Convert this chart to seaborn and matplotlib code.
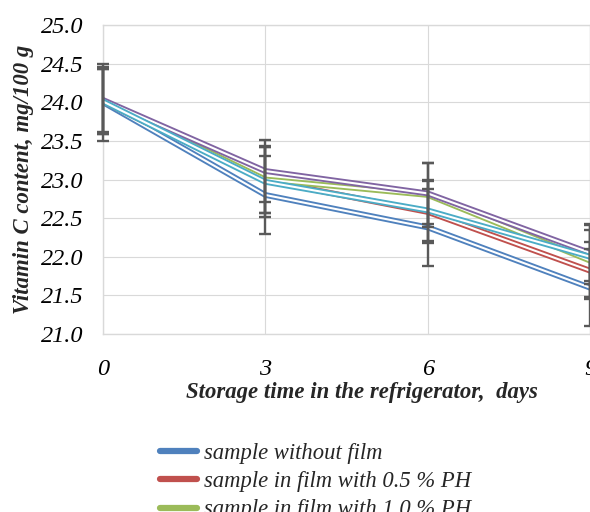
import matplotlib
matplotlib.use("Agg")
import matplotlib.pyplot as plt
import matplotlib.patheffects as pe
from matplotlib.lines import Line2D
import numpy as np
import pandas as pd
import seaborn as sns

# ---- data ----
days = [0, 3, 6, 9]
series_names = [
    "sample without film",
    "sample in film with 0.5 % PH",
    "sample in film with 1.0 % PH",
    "sample in film with 1.5 % PH",
    "sample in film with 2.0 % PH",
]
no_film = [24.00, 22.80, 22.38, 21.60]
ph_05 = [24.01, 22.99, 22.58, 21.82]
ph_10 = [24.02, 23.00, 22.80, 21.95]
ph_15 = [24.03, 23.11, 22.82, 22.05]
ph_20 = [24.01, 22.97, 22.60, 22.00]

err_no_film = [0.50, 0.50, 0.50, 0.50]
err_ph_05 = [0.42, 0.43, 0.40, 0.37]
err_ph_10 = [0.42, 0.43, 0.42, 0.47]
err_ph_15 = [0.42, 0.40, 0.40, 0.36]
err_ph_20 = [0.42, 0.45, 0.40, 0.35]

colors = ["#4F81BD", "#C0504D", "#9BBB59", "#8064A2", "#4BACC6"]

values = [no_film, ph_05, ph_10, ph_15, ph_20]
errors = [err_no_film, err_ph_05, err_ph_10, err_ph_15, err_ph_20]

df = pd.DataFrame({
    "day": np.tile(days, len(series_names)),
    "vitc": np.concatenate(values),
    "series": np.repeat(series_names, len(days)),
})

sns.set_style("whitegrid", {"grid.color": "#D9D9D9", "axes.edgecolor": "#D9D9D9"})
plt.rcParams["font.family"] = ["Liberation Serif", "DejaVu Serif"]

fig = plt.figure(figsize=(5.9, 5.12), dpi=100)
ax = fig.add_axes([103 / 590, 1 - 334 / 512, 487 / 590, 309 / 512])

sns.lineplot(data=df, x="day", y="vitc", hue="series", hue_order=series_names,
             palette=colors, errorbar=None, legend=False, ax=ax, linewidth=1.5,
             zorder=3)

# double-stroke look: coloured outer stroke with a white core
for line, c in zip(ax.get_lines(), colors):
    line.set_color("white")
    line.set_path_effects([pe.Stroke(linewidth=4.2, foreground=c), pe.Normal()])

for v, e in zip(values, errors):
    ax.errorbar(days, v, yerr=e, fmt="none", ecolor="#595959", elinewidth=1.7,
                capsize=4.5, capthick=1.7, zorder=4, clip_on=False)

ax.set_xlim(0, 9)
ax.set_ylim(21.0, 25.0)
ax.set_xticks(days)
ax.set_yticks(np.arange(21.0, 25.01, 0.5))
ax.yaxis.set_major_formatter(matplotlib.ticker.FormatStrFormatter("%.1f"))
ax.tick_params(axis="x", length=0, pad=18, labelsize=17.5)
ax.tick_params(axis="y", length=0, pad=14, labelsize=17.5)
for lab in ax.get_xticklabels() + ax.get_yticklabels():
    lab.set_fontstyle("italic")
    lab.set_color("#000000")

for side in ["left", "bottom", "top", "right"]:
    ax.spines[side].set_color("#D9D9D9")
    ax.spines[side].set_linewidth(1.0)

ax.set_xlabel("Storage time in the refrigerator,  days", fontsize=16.4,
              fontweight="bold", fontstyle="italic")
ax.set_ylabel("Vitamin C content, mg/100 g", fontsize=16.4,
              fontweight="bold", fontstyle="italic")
ax.xaxis.set_label_coords((362 - 103) / 487, -(382 - 334) / 309)
ax.yaxis.set_label_coords(-(103 - 34) / 487, 0.5)

handles = [Line2D([0], [0], color=c, linewidth=4.5) for c in colors]
fig.legend(handles, series_names, loc="upper left",
           bbox_to_anchor=(160 / 590, 1 - 443 / 512), frameon=False,
           prop={"style": "italic", "size": 16.3},
           handlelength=1.65, handletextpad=0.3, labelspacing=0.32,
           borderpad=0, borderaxespad=0)

fig.savefig("out.png", dpi=100)
